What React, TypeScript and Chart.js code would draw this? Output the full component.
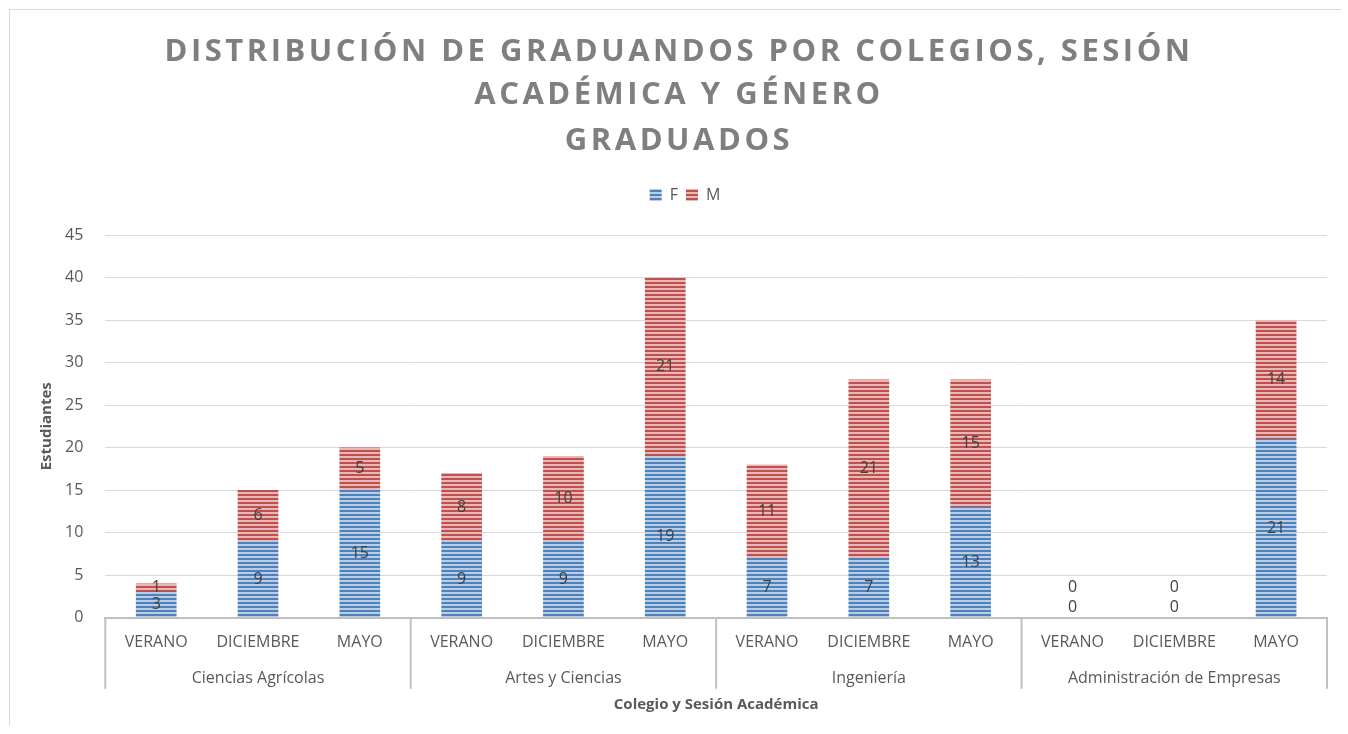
import React, { useEffect, useRef } from "react";
import { Chart, registerables } from "chart.js";

Chart.register(...registerables);

const TITLE_LINES = [
  "DISTRIBUCIÓN DE GRADUANDOS POR COLEGIOS, SESIÓN",
  "ACADÉMICA Y GÉNERO",
  "GRADUADOS",
];
const SESSIONS = [
  "VERANO", "DICIEMBRE", "MAYO",
  "VERANO", "DICIEMBRE", "MAYO",
  "VERANO", "DICIEMBRE", "MAYO",
  "VERANO", "DICIEMBRE", "MAYO",
];
const COLLEGES = ["Ciencias Agrícolas", "Artes y Ciencias", "Ingeniería", "Administración de Empresas"];
const F_VALUES = [3, 9, 15, 9, 9, 19, 7, 7, 13, 0, 0, 21];
const M_VALUES = [1, 6, 5, 8, 10, 21, 11, 21, 15, 0, 0, 14];
const SERIES_NAMES = ["F", "M"];
const Y_MIN = 0;
const Y_MAX = 45;
const Y_STEP = 5;
const Y_TITLE = "Estudiantes";
const X_TITLE = "Colegio y Sesión Académica";

const FONT = '"Open Sans", "Noto Sans", sans-serif';
const TEXT = "#595959";

function makePattern(dark: string, light: string): CanvasPattern | string {
  const c = document.createElement("canvas");
  c.width = 4;
  c.height = 4;
  const g = c.getContext("2d");
  if (!g) return dark;
  g.fillStyle = light;
  g.fillRect(0, 0, 4, 4);
  g.fillStyle = dark;
  g.fillRect(0, 0, 4, 2);
  const p = g.createPattern(c, "repeat");
  return p || dark;
}

const titlePlugin = {
  id: "excelTitle",
  afterDraw(chart: any) {
    const ctx = chart.ctx;
    ctx.save();
    ctx.font = `bold 31px ${FONT}`;
    ctx.fillStyle = "#7f7f7f";
    try { (ctx as any).letterSpacing = "3.5px"; } catch (e) {}
    ctx.textAlign = "center";
    ctx.textBaseline = "middle";
    const cx = chart.width / 2 + 4;
    const ys = [42, 85, 131];
    TITLE_LINES.forEach((t, i) => ctx.fillText(t, cx, ys[i]));
    ctx.restore();
  },
};

const yTitlePlugin = {
  id: "yTitle",
  afterDraw(chart: any) {
    const ctx = chart.ctx;
    const area = chart.chartArea;
    ctx.save();
    ctx.font = `bold 15px ${FONT}`;
    ctx.fillStyle = TEXT;
    ctx.textAlign = "center";
    ctx.textBaseline = "middle";
    ctx.translate(37, (area.top + area.bottom) / 2);
    ctx.rotate(-Math.PI / 2);
    ctx.fillText(Y_TITLE, 0, 0);
    ctx.restore();
  },
};

const legendGapPlugin = {
  id: "legendGap",
  beforeInit(chart: any) {
    const lg = chart.legend;
    if (!lg) return;
    const orig = lg.fit;
    lg.fit = function () {
      orig.call(this);
      this.height += 22;
    };
  },
};

const labelsPlugin = {
  id: "segLabels",
  afterDatasetsDraw(chart: any) {
    const ctx = chart.ctx;
    ctx.save();
    ctx.font = `16px ${FONT}`;
    ctx.fillStyle = "#404040";
    ctx.textAlign = "center";
    ctx.textBaseline = "middle";
    chart.data.datasets.forEach((ds: any, di: number) => {
      const meta = chart.getDatasetMeta(di);
      meta.data.forEach((el: any, i: number) => {
        const v = ds.data[i];
        let y: number;
        if (v === 0) {
          y = el.base - (di === 0 ? 10 : 30);
        } else {
          y = (el.y + el.base) / 2;
        }
        ctx.fillText(String(v), el.x, y);
      });
    });
    ctx.restore();
  },
};

const separatorsPlugin = {
  id: "groupSeparators",
  afterDraw(chart: any) {
    const x = chart.scales.x;
    const x2 = chart.scales.x2;
    const ctx = chart.ctx;
    const half = (x.getPixelForValue(1) - x.getPixelForValue(0)) / 2;
    const top = chart.chartArea.bottom;
    const bottom = x2.top + 22;
    ctx.save();
    ctx.strokeStyle = "#bfbfbf";
    ctx.lineWidth = 2;
    for (let g = 0; g <= COLLEGES.length; g++) {
      const idx = g * 3;
      const px = idx < SESSIONS.length ? x.getPixelForValue(idx) - half : x.getPixelForValue(SESSIONS.length - 1) + half;
      ctx.beginPath();
      ctx.moveTo(px, top);
      ctx.lineTo(px, bottom);
      ctx.stroke();
    }
    ctx.restore();
  },
};

export default function App() {
  const ref = useRef<HTMLCanvasElement | null>(null);
  useEffect(() => {
    if (!ref.current) return;
    const blue = makePattern("#4f81bd", "#b9cde5");
    const red = makePattern("#c0504d", "#e6b9b8");
    const chart = new Chart(ref.current, {
      type: "bar",
      data: {
        labels: SESSIONS,
        datasets: [
          { label: SERIES_NAMES[0], data: F_VALUES, backgroundColor: blue as any, borderWidth: 0 },
          { label: SERIES_NAMES[1], data: M_VALUES, backgroundColor: red as any, borderWidth: 0 },
        ],
      },
      options: {
        animation: false,
        responsive: false,
        maintainAspectRatio: false,
        datasets: { bar: { barPercentage: 0.4, categoryPercentage: 1 } },
        layout: { padding: { top: 169, right: 13, bottom: 11, left: 33 } },
        plugins: {
          title: { display: false },
          tooltip: { enabled: false },
          legend: {
            display: true,
            position: "top",
            labels: {
              boxWidth: 12,
              boxHeight: 12,
              color: TEXT,
              font: { family: FONT, size: 16 },
              padding: 8,
            },
          },
        },
        scales: {
          x: {
            type: "category",
            stacked: true,
            weight: 0,
            grid: { display: false, drawOnChartArea: false, drawTicks: false },
            border: { display: true, color: "#bfbfbf", width: 2 },
            ticks: { color: TEXT, font: { family: FONT, size: 16 }, padding: 15, maxRotation: 0, autoSkip: false },
          },
          x2: {
            type: "category",
            position: "bottom",
            labels: COLLEGES,
            offset: true,
            weight: 1,
            grid: { display: false, drawTicks: false },
            border: { display: false },
            ticks: { color: TEXT, font: { family: FONT, size: 16 }, padding: 2, maxRotation: 0, autoSkip: false },
            title: {
              display: true,
              text: X_TITLE,
              color: TEXT,
              font: { family: FONT, size: 15, weight: "bold" },
              padding: { top: 6, bottom: 0 },
            },
          },
          y: {
            stacked: true,
            min: Y_MIN,
            max: Y_MAX,
            ticks: { stepSize: Y_STEP, color: TEXT, font: { family: FONT, size: 16 }, padding: 22 },
            grid: { color: "#d9d9d9", lineWidth: 1, drawTicks: false },
            border: { display: false },
            title: { display: false },
          },
        },
      },
      plugins: [legendGapPlugin, titlePlugin, yTitlePlugin, labelsPlugin, separatorsPlugin],
    });
    return () => chart.destroy();
  }, []);

  return (
    <div
      style={{
        position: "absolute",
        left: 9,
        top: 9,
        width: 1331,
        height: 716,
        borderTop: "1px solid #d9d9d9",
        borderLeft: "1px solid #d9d9d9",
        background: "#fff",
      }}
    >
      <canvas ref={ref} width={1330} height={715} style={{ display: "block" }} />
    </div>
  );
}
